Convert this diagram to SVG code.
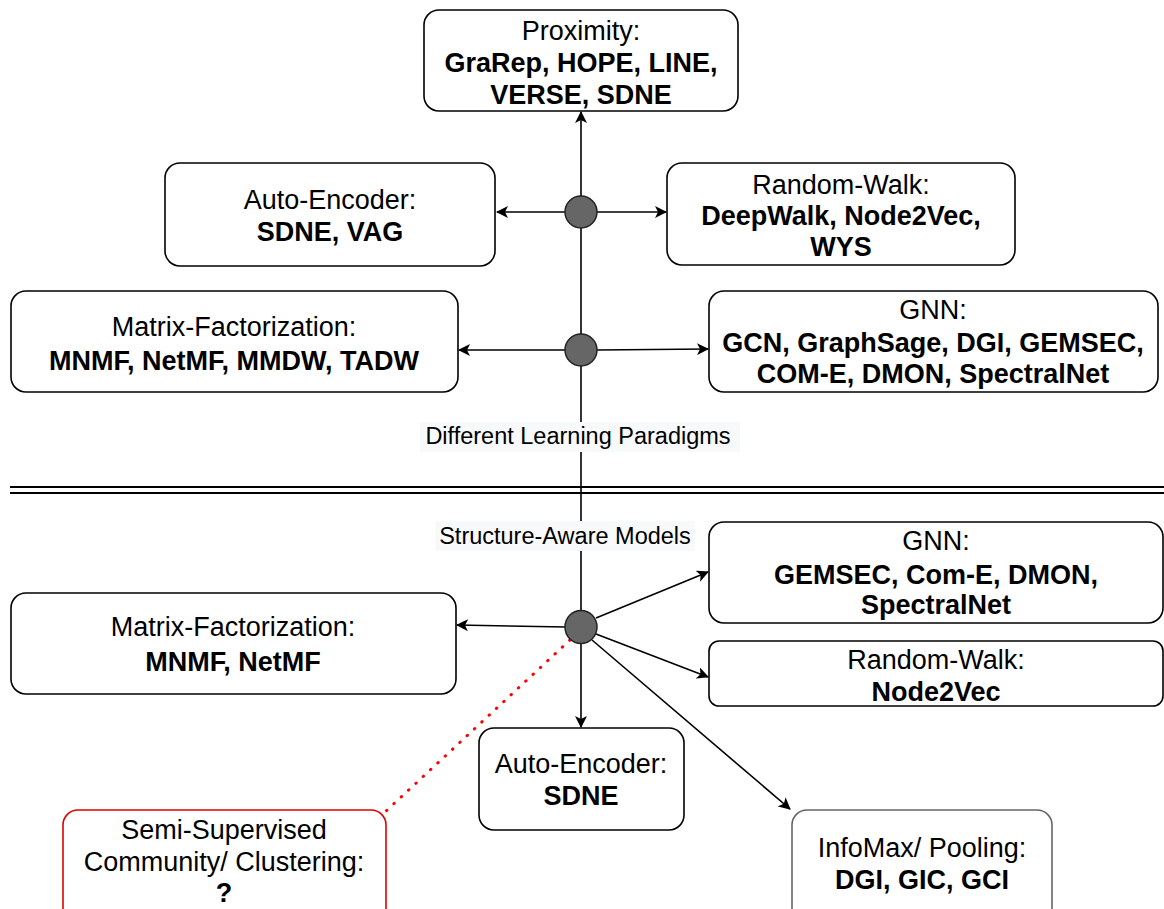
<svg xmlns="http://www.w3.org/2000/svg" width="1164" height="909" viewBox="0 0 1164 909">
<style>
.box{fill:#fff;stroke:#000;stroke-width:1.6}
.t{font-family:"Liberation Sans",Arial,sans-serif;font-size:27px;fill:#000;text-anchor:middle}
.b{font-weight:bold}
.lbl{font-family:"Liberation Sans",Arial,sans-serif;font-size:23.5px;fill:#000;text-anchor:middle}
.ln{stroke:#000;stroke-width:1.6;fill:none}
.arr{marker-end:url(#ah)}
.hub{fill:#666;stroke:#222;stroke-width:1.5}
</style>
<defs>
<marker id="ah" viewBox="0 0 12 12" refX="11" refY="6" markerWidth="12" markerHeight="12" markerUnits="userSpaceOnUse" orient="auto">
<path d="M0,0 L12,6 L0,12 L3,6 Z" fill="#000"/>
</marker>
</defs>
<rect width="1164" height="909" fill="#fff"/>
<g id="connectors">
<line class="ln arr" x1="581" y1="196" x2="581" y2="112"/>
<line class="ln" x1="581" y1="228" x2="581" y2="334"/>
<line class="ln" x1="581" y1="366" x2="581" y2="611"/>
<line class="ln arr" x1="581" y1="643" x2="581" y2="727"/>
<line class="ln arr" x1="565" y1="212" x2="497" y2="212"/>
<line class="ln arr" x1="597" y1="212" x2="666" y2="212"/>
<line class="ln arr" x1="565" y1="350" x2="459" y2="350"/>
<line class="ln arr" x1="597" y1="350" x2="708" y2="349"/>
<line class="ln arr" x1="566" y1="627" x2="457" y2="625"/>
<line class="ln arr" x1="596" y1="618" x2="708" y2="572"/>
<line class="ln arr" x1="596" y1="634" x2="708" y2="677"/>
<line class="ln arr" x1="592" y1="640" x2="790" y2="809"/>
<line x1="570" y1="640" x2="385" y2="812" stroke="#ff0000" stroke-width="3" stroke-dasharray="0.5 9.5" stroke-linecap="round"/>
<line x1="10" y1="487" x2="1164" y2="487" stroke="#000" stroke-width="2"/>
<line x1="10" y1="493" x2="1164" y2="493" stroke="#000" stroke-width="2"/>
</g>
<g id="label-paradigms">
<rect x="420" y="422" width="320" height="30" fill="#f8f9fa"/>
<text class="lbl" x="578" y="444">Different Learning Paradigms</text>
</g>
<g id="label-structure">
<rect x="435" y="521" width="260" height="30" fill="#f8f9fa"/>
<text class="lbl" x="565" y="544">Structure-Aware Models</text>
</g>
<g id="hub1"><circle class="hub" cx="581" cy="212" r="16"/></g>
<g id="hub2"><circle class="hub" cx="581" cy="350" r="16"/></g>
<g id="hub3"><ellipse class="hub" cx="581" cy="627" rx="16" ry="16.5"/></g>
<g id="proximity">
<rect class="box" x="424" y="10" width="314" height="101" rx="15"/>
<text class="t" x="581" y="40">Proximity:</text>
<text class="t b" x="581" y="72">GraRep, HOPE, LINE,</text>
<text class="t b" x="581" y="104">VERSE, SDNE</text>
</g>
<g id="autoencoder-top">
<rect class="box" x="165" y="163" width="330" height="103" rx="15"/>
<text class="t" x="330" y="209">Auto-Encoder:</text>
<text class="t b" x="330" y="241">SDNE, VAG</text>
</g>
<g id="randomwalk-top">
<rect class="box" x="667" y="163" width="348" height="102" rx="15"/>
<text class="t" x="841" y="194">Random-Walk:</text>
<text class="t b" x="841" y="225">DeepWalk, Node2Vec,</text>
<text class="t b" x="841" y="256">WYS</text>
</g>
<g id="matrix-top">
<rect class="box" x="11" y="291" width="447" height="101" rx="15"/>
<text class="t" x="234" y="336">Matrix-Factorization:</text>
<text class="t b" x="234" y="370">MNMF, NetMF, MMDW, TADW</text>
</g>
<g id="gnn-top">
<rect class="box" x="709" y="291" width="449" height="101" rx="15"/>
<text class="t" x="933" y="319">GNN:</text>
<text class="t b" x="933" y="352">GCN, GraphSage, DGI, GEMSEC,</text>
<text class="t b" x="933" y="383">COM-E, DMON, SpectralNet</text>
</g>
<g id="gnn-bottom">
<rect class="box" x="709" y="522" width="454" height="101" rx="15"/>
<text class="t" x="936" y="550">GNN:</text>
<text class="t b" x="936" y="584">GEMSEC, Com-E, DMON,</text>
<text class="t b" x="936" y="614">SpectralNet</text>
</g>
<g id="matrix-bottom">
<rect class="box" x="11" y="593" width="445" height="101" rx="15"/>
<text class="t" x="233" y="636">Matrix-Factorization:</text>
<text class="t b" x="233" y="671">MNMF, NetMF</text>
</g>
<g id="randomwalk-bottom">
<rect class="box" x="709" y="641" width="454" height="65" rx="10"/>
<text class="t" x="936" y="669">Random-Walk:</text>
<text class="t b" x="936" y="701">Node2Vec</text>
</g>
<g id="autoencoder-bottom">
<rect class="box" x="479" y="728" width="205" height="102" rx="15"/>
<text class="t" x="581" y="773">Auto-Encoder:</text>
<text class="t b" x="581" y="805">SDNE</text>
</g>
<g id="semi-supervised">
<rect x="63" y="810" width="323" height="115" rx="15" fill="#fff" stroke="#e00000" stroke-width="1.6"/>
<text class="t" x="224" y="839">Semi-Supervised</text>
<text class="t" x="224" y="871">Community/ Clustering:</text>
<text class="t b" x="224" y="902">?</text>
</g>
<g id="infomax">
<rect x="792" y="810" width="260" height="115" rx="15" fill="#fff" stroke="#666" stroke-width="1.6"/>
<text class="t" x="922" y="857">InfoMax/ Pooling:</text>
<text class="t b" x="922" y="889">DGI, GIC, GCI</text>
</g>
</svg>
